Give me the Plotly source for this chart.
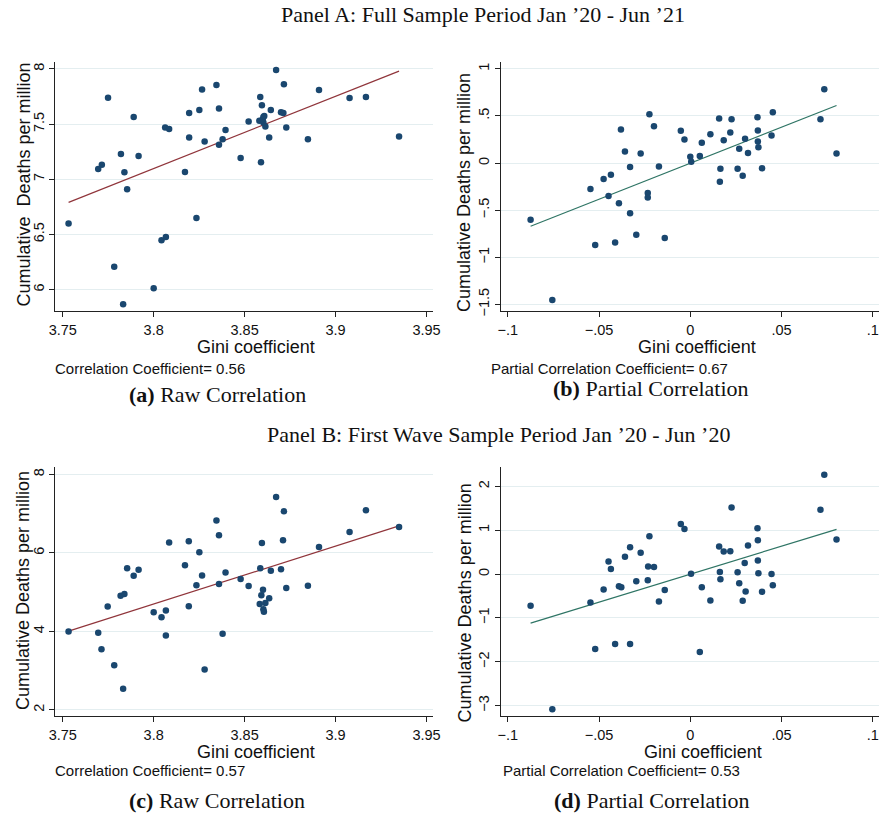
import numpy as np
import plotly.graph_objects as go

W, H = 890, 819

# ---------------- data ----------------
a_x = [3.7532,3.7695,3.7715,3.7749,3.7783,3.7820,3.7839,3.7832,3.7854,3.7890,3.7917,3.8000,3.8043,3.8067,3.8063,3.8085,3.8172,3.8195,3.8195,3.8235,3.8251,3.8266,3.8280,3.8345,3.8359,3.8359,
       3.8379,3.8395,3.8478,3.8522,3.8586,3.8595,3.8590,3.8581,3.8599,3.8603,3.8608,3.8603,3.8614,3.8635,3.8644,3.8673,3.8700,3.8713,3.8716,3.8729,3.8848,3.8909,3.9077,3.9167,3.9349]
a_y = [6.598,7.093,7.132,7.739,6.207,7.228,7.063,5.868,6.910,7.565,7.210,6.012,6.447,6.477,7.468,7.456,7.066,7.600,7.378,6.649,7.628,7.814,7.342,7.853,7.640,7.312,
       7.363,7.447,7.192,7.523,7.745,7.670,7.153,7.529,7.541,7.565,7.574,7.514,7.477,7.378,7.628,7.991,7.607,7.601,7.862,7.468,7.363,7.808,7.736,7.745,7.387]

b_x = [-0.0875,-0.0756,-0.0547,-0.0521,-0.0475,-0.0448,-0.0435,-0.0412,-0.0391,-0.0380,-0.0358,-0.0330,-0.0330,-0.0296,-0.0272,-0.0233,-0.0233,-0.0224,-0.0199,-0.0172,
       -0.0140,-0.0052,-0.0032,0.0000,0.0005,0.0052,0.0063,0.0110,0.0158,0.0162,0.0165,0.0183,0.0219,0.0226,0.0259,0.0268,0.0287,0.0300,0.0316,0.0368,0.0370,0.0370,0.0373,0.0393,0.0445,0.0452,0.0713,0.0734,0.0801]
b_y = [-0.602,-1.454,-0.275,-0.870,-0.169,-0.349,-0.123,-0.842,-0.426,0.356,0.123,-0.042,-0.532,-0.761,0.102,-0.317,-0.366,0.518,0.391,-0.035,
       -0.796,0.342,0.250,0.067,0.014,0.074,0.215,0.306,0.472,-0.197,-0.060,0.243,0.324,0.465,-0.060,0.151,-0.134,0.257,0.106,0.486,0.345,0.229,0.169,-0.056,0.292,0.539,0.465,0.785,0.102]

c_x = [3.7532,3.7695,3.7713,3.7747,3.7783,3.7818,3.7839,3.7832,3.7854,3.7890,3.7917,3.8000,3.8043,3.8067,3.8067,3.8085,3.8172,3.8193,3.8193,3.8235,3.8251,3.8266,3.8280,3.8345,3.8359,3.8359,
       3.8379,3.8395,3.8478,3.8522,3.8586,3.8595,3.8583,3.8592,3.8601,3.8603,3.8606,3.8614,3.8635,3.8644,3.8673,3.8700,3.8711,3.8716,3.8729,3.8848,3.8909,3.9077,3.9167,3.9349]
c_y = [4.000,3.966,3.544,4.633,3.139,4.911,4.954,2.540,5.612,5.418,5.570,4.489,4.363,3.899,4.532,6.262,5.688,6.295,4.641,5.173,6.017,5.426,3.030,6.827,6.447,5.207,
       3.941,5.502,5.333,5.156,5.612,6.253,4.700,4.920,5.063,4.565,4.498,4.726,4.844,5.544,7.426,5.586,6.321,7.063,5.105,5.165,6.152,6.532,7.089,6.658]

d_x = [-0.0875,-0.0756,-0.0547,-0.0521,-0.0475,-0.0448,-0.0435,-0.0412,-0.0391,-0.0378,-0.0358,-0.0330,-0.0330,-0.0296,-0.0272,-0.0233,-0.0231,-0.0224,-0.0199,-0.0172,
       -0.0140,-0.0052,-0.0032,0.0004,0.0052,0.0063,0.0110,0.0158,0.0162,0.0165,0.0183,0.0219,0.0226,0.0259,0.0268,0.0287,0.0298,0.0303,0.0316,0.0368,0.0370,0.0370,0.0373,0.0393,0.0445,0.0452,0.0713,0.0734,0.0801]
d_y = [-0.722,-3.083,-0.647,-1.710,-0.353,0.288,0.115,-1.597,-0.278,-0.300,0.394,0.612,-1.597,-0.164,0.484,-0.142,0.175,0.861,0.160,-0.624,
       -0.361,1.140,1.027,0.009,-1.778,-0.300,-0.602,0.627,0.047,-0.119,0.514,0.521,1.517,0.039,-0.210,-0.609,0.250,-0.398,0.650,1.042,0.771,0.311,0.017,-0.406,0.002,-0.255,1.465,2.264,0.786]

raw_xticks = [3.75, 3.8, 3.85, 3.9, 3.95]
raw_xticktext = ["3.75", "3.8", "3.85", "3.9", "3.95"]
part_xticks = [-0.1, -0.05, 0, 0.05, 0.1]
part_xticktext = ["\u2212.1", "\u2212.05", "0", ".05", ".1"]
a_yticks = [6, 6.5, 7, 7.5, 8]
a_yticktext = ["6", "6.5", "7", "7.5", "8"]
b_yticks = [-1.5, -1, -0.5, 0, 0.5, 1]
b_yticktext = ["\u22121.5", "\u22121", "\u2212.5", "0", ".5", "1"]
c_yticks = [2, 4, 6, 8]
c_yticktext = ["2", "4", "6", "8"]
d_yticks = [-3, -2, -1, 0, 1, 2]
d_yticktext = ["\u22123", "\u22122", "\u22121", "0", "1", "2"]

corr_labels = ["Correlation Coefficient= 0.56", "Partial Correlation Coefficient= 0.67",
               "Correlation Coefficient= 0.57", "Partial Correlation Coefficient= 0.53"]
captions = [("(a)", "Raw Correlation"), ("(b)", "Partial Correlation"),
            ("(c)", "Raw Correlation"), ("(d)", "Partial Correlation")]
panel_titles = ["Panel A: Full Sample Period Jan \u201920 - Jun \u201921",
                "Panel B: First Wave Sample Period Jan \u201920 - Jun \u201920"]
ytitles = ["Cumulative  Deaths per million", "Cumulative Deaths per million",
           "Cumulative Deaths per million", "Cumulative Deaths per million"]
xtitle = "Gini coefficient"

# ---------------- styling ----------------
NAVY = "#1a476f"
MAROON = "#90353b"
TEAL = "#2f7565"
GRID = "#e4eef0"
AXC = "#222222"
SANS = "Liberation Sans, Arial, sans-serif"
SERIF = "Liberation Serif, Times New Roman, serif"

def px(x):
    return x / W

def py(y):
    return 1 - y / H

panels = [
    dict(x=a_x, y=a_y, lc=MAROON, dom_x=(49.3, 433), dom_y=(62, 313), xr=(3.746, 3.9534), yr=(5.805, 8.066),
         xt=(raw_xticks, raw_xticktext), yt=(a_yticks, a_yticktext)),
    dict(x=b_x, y=b_y, lc=TEAL, dom_x=(502.3, 887), dom_y=(62, 313), xr=(-0.1038, 0.1034), yr=(-1.571, 1.077),
         xt=(part_xticks, part_xticktext), yt=(b_yticks, b_yticktext)),
    dict(x=c_x, y=c_y, lc=MAROON, dom_x=(49.3, 433), dom_y=(470, 720.7), xr=(3.746, 3.9534), yr=(1.838, 8.185),
         xt=(raw_xticks, raw_xticktext), yt=(c_yticks, c_yticktext)),
    dict(x=d_x, y=d_y, lc=TEAL, dom_x=(502.3, 887), dom_y=(470, 720.7), xr=(-0.1038, 0.1034), yr=(-3.242, 2.437),
         xt=(part_xticks, part_xticktext), yt=(d_yticks, d_yticktext)),
]

fig = go.Figure()
layout = dict(width=W, height=H, margin=dict(l=0, r=0, t=0, b=0),
              paper_bgcolor="white", plot_bgcolor="white", showlegend=False)

for i, p in enumerate(panels):
    k = "" if i == 0 else str(i + 1)
    xs = np.array(p["x"]); ys = np.array(p["y"])
    slope, icpt = np.polyfit(xs, ys, 1)
    lx = np.array([xs.min(), xs.max()])
    fig.add_trace(go.Scatter(x=lx, y=slope * lx + icpt, mode="lines",
                             line=dict(color=p["lc"], width=1.2),
                             xaxis="x" + k, yaxis="y" + k, hoverinfo="skip"))
    fig.add_trace(go.Scatter(x=xs, y=ys, mode="markers",
                             marker=dict(color=NAVY, size=6.5, line=dict(width=0)),
                             xaxis="x" + k, yaxis="y" + k))
    layout["xaxis" + k] = dict(domain=[px(p["dom_x"][0]), px(p["dom_x"][1])], anchor="y" + k,
                               range=list(p["xr"]), tickvals=p["xt"][0], ticktext=p["xt"][1],
                               ticks="outside", ticklen=5, tickwidth=1, tickcolor=AXC,
                               showline=True, linecolor=AXC, linewidth=1.2, showgrid=False, zeroline=False,
                               tickfont=dict(family=SANS, size=14.5, color="#111"))
    layout["yaxis" + k] = dict(domain=[py(p["dom_y"][1]), py(p["dom_y"][0])], anchor="x" + k,
                               range=list(p["yr"]), tickvals=p["yt"][0], ticktext=p["yt"][1],
                               ticks="outside", ticklen=5, tickwidth=1, tickcolor=AXC, tickangle=-90,
                               showline=True, linecolor=AXC, linewidth=1.2, showgrid=True,
                               gridcolor=GRID, gridwidth=1, zeroline=False,
                               tickfont=dict(family=SANS, size=14.5, color="#111"))

ann = []
# y-axis titles
ytitle_pos = [(17, 186), (465, 194), (17, 594), (466, 607)]
for t, (x, y) in zip(ytitles, ytitle_pos):
    ann.append(dict(x=px(x), y=py(y), xref="paper", yref="paper", text=t, showarrow=False,
                    textangle=-90, font=dict(family=SANS, size=18, color="#111"),
                    xanchor="center", yanchor="middle"))
# x-axis titles
xtitle_pos = [(253, 349), (702, 349), (253, 757), (708, 757)]
for (x, y) in xtitle_pos:
    ann.append(dict(x=px(x), y=py(y), xref="paper", yref="paper", text=xtitle, showarrow=False,
                    font=dict(family=SANS, size=18, color="#111"), xanchor="center", yanchor="middle"))
# correlation notes
corr_pos = [(47, 371), (490, 371), (47, 775), (502, 775)]
for t, (x, y) in zip(corr_labels, corr_pos):
    ann.append(dict(x=px(x), y=py(y), xref="paper", yref="paper", text=t, showarrow=False,
                    font=dict(family=SANS, size=15, color="#111"), xanchor="left", yanchor="middle"))
# captions
cap_pos = [(214, 397), (655, 391), (214, 805), (656, 805)]
for (lab, txt), (x, y) in zip(captions, cap_pos):
    ann.append(dict(x=px(x), y=py(y), xref="paper", yref="paper",
                    text="<b>" + lab + "</b> " + txt, showarrow=False,
                    font=dict(family=SERIF, size=22, color="#111"), xanchor="center", yanchor="middle"))
# panel titles
title_pos = [(484, 15), (500, 437)]
for t, (x, y) in zip(panel_titles, title_pos):
    ann.append(dict(x=px(x), y=py(y), xref="paper", yref="paper", text=t, showarrow=False,
                    font=dict(family=SERIF, size=22, color="#111"), xanchor="center", yanchor="middle"))

layout["annotations"] = ann
fig.update_layout(**layout)
fig.write_html("out.html")
